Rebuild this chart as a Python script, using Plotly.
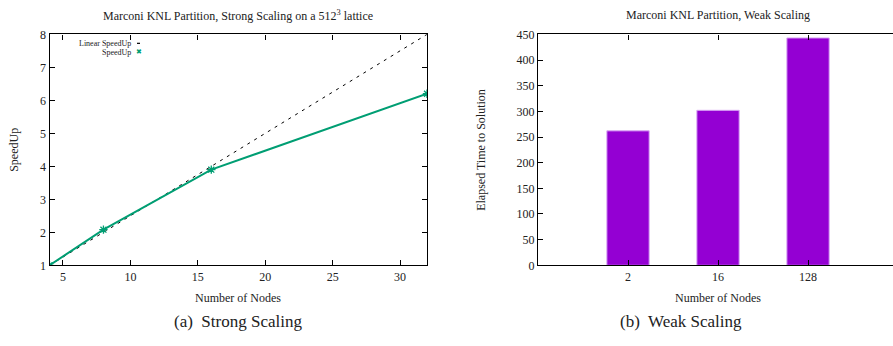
import plotly.graph_objects as go

# ---- data ----
nodes_strong = [4, 8, 16, 32]
linear_speedup = [1, 2, 4, 8]
speedup = [1.0, 2.08, 3.9, 6.2]

weak_nodes = ["2", "16", "128"]
weak_time = [262, 302, 443]

FONT = "Liberation Serif"
GREEN = "#009e73"
PURPLE = "#9400d3"
W, H = 893, 346

def py(y):
    # map target pixel row to paper fraction (compensates observed vertical render scaling)
    yin = (y - 5.5) / 0.964
    return 1 - yin / H

fig = go.Figure()

fig.add_trace(go.Scatter(
    x=nodes_strong, y=linear_speedup, mode="lines",
    line=dict(color="black", width=1, dash="3px,5px"),
    xaxis="x", yaxis="y", showlegend=False))
fig.add_trace(go.Scatter(
    x=nodes_strong, y=speedup, mode="lines+markers",
    line=dict(color=GREEN, width=2),
    marker=dict(symbol="asterisk-open", size=7, color=GREEN, line=dict(color=GREEN, width=1.3)),
    xaxis="x", yaxis="y", showlegend=False))

fig.add_trace(go.Bar(
    x=weak_nodes, y=weak_time, width=0.47,
    marker=dict(color=PURPLE, line=dict(color="#d9a6f5", width=1)),
    xaxis="x2", yaxis="y2", showlegend=False))

ydom = [py(265), py(33)]
axis_common = dict(showline=True, linecolor="black", linewidth=1.3, ticks="inside",
                   ticklen=5, tickcolor="black", showgrid=False, zeroline=False,
                   tickfont=dict(family=FONT, size=12, color="#222"))

fig.update_layout(
    width=W, height=H, margin=dict(l=0, r=0, t=0, b=0, pad=0), autosize=False,
    paper_bgcolor="white", plot_bgcolor="white",
    font=dict(family=FONT, color="#222"),
    xaxis=dict(domain=[49.5 / W, 427 / W], range=[4, 32], tickvals=[5, 10, 15, 20, 25, 30],
               mirror="ticks", anchor="y", **axis_common),
    yaxis=dict(domain=ydom, range=[1, 8], dtick=1, mirror="ticks", anchor="x", **axis_common),
    xaxis2=dict(domain=[538 / W, 1.0], range=[-1, 2.944], type="category",
                mirror="ticks", anchor="y2", **axis_common),
    yaxis2=dict(domain=ydom, range=[0, 450], dtick=50, anchor="x2", **axis_common),
)

ann = []
def a(x, y, text, size, xanchor="center", color="#222", family=FONT, **kw):
    d = dict(x=x / W, y=py(y), xref="paper", yref="paper", text=text, showarrow=False,
             xanchor=xanchor, yanchor="middle",
             font=dict(family=family, size=size, color=color))
    d.update(kw)
    ann.append(d)

a(238, 14, "Marconi KNL Partition, Strong Scaling on a 512<sup>3</sup> lattice", 12)
a(718, 14, "Marconi KNL Partition, Weak Scaling", 12)
a(238, 298, "Number of Nodes", 12)
a(718, 298, "Number of Nodes", 12)
a(14, 149, "SpeedUp", 12, textangle=-90)
a(481, 149, "Elapsed Time to Solution", 12, textangle=-90)
a(238, 321, "(a)  Strong Scaling", 17)
a(681, 321, "(b)  Weak Scaling", 17)
a(133, 42, "Linear SpeedUp", 8, xanchor="right")
a(133, 51, "SpeedUp", 8, xanchor="right")
a(139, 51, "✖", 7, color=GREEN, family="DejaVu Sans")
fig.update_layout(annotations=ann)

fig.add_shape(type="line", xref="paper", yref="paper", x0=137 / W, x1=140 / W,
              y0=py(42), y1=py(42), line=dict(color="black", width=1.2))

fig.write_html("out.html")
